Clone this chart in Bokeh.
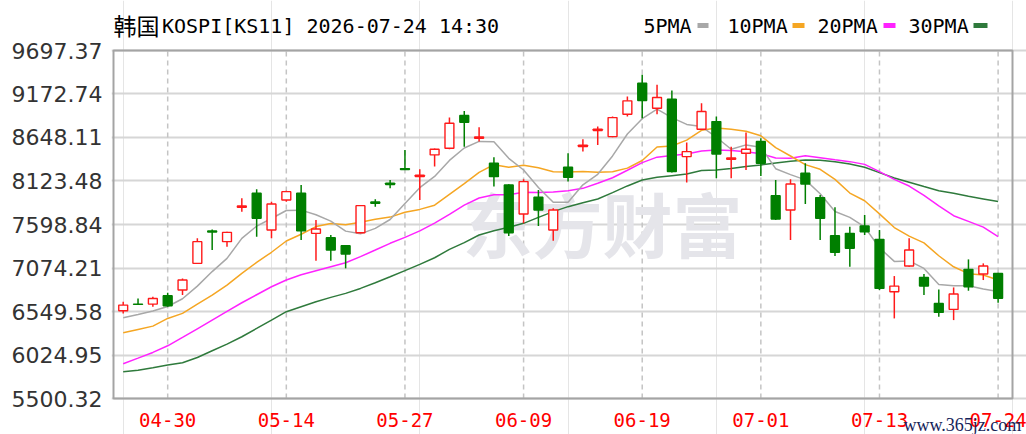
from bokeh.plotting import figure
from bokeh.models import Range1d, FixedTicker, PrintfTickFormatter, ColumnDataSource
from bokeh.embed import file_html
from bokeh.resources import INLINE
from bokeh.core.properties import value

# ---------------- data ----------------
dates = ["04-27", "04-28", "04-29", "04-30", "05-04", "05-06", "05-07", "05-08", "05-11", "05-12",
         "05-13", "05-14", "05-15", "05-18", "05-19", "05-20", "05-21", "05-22", "05-26", "05-27",
         "05-28", "05-29", "06-01", "06-02", "06-04", "06-05", "06-08", "06-09", "06-10", "06-11",
         "06-12", "06-15", "06-16", "06-17", "06-18", "06-19", "06-22", "06-23", "06-24", "06-25",
         "06-26", "06-29", "06-30", "07-01", "07-02", "07-03", "07-06", "07-07", "07-08", "07-09",
         "07-10", "07-13", "07-14", "07-15", "07-16", "07-17", "07-20", "07-21", "07-22", "07-24"]

open_ = [6559, 6639, 6639, 6740, 6808, 7130, 7520, 7392, 7806, 7975,
         7532, 7894, 7975, 7492, 7440, 7343, 7500, 7870, 8096, 8273,
         8176, 8438, 8518, 8913, 8639, 8337, 8076, 7726, 7927, 7532,
         8289, 8538, 8732, 8659, 8929, 9303, 9001, 9110, 8418, 8748,
         8840, 8386, 8458, 8599, 7947, 7774, 8217, 7923, 7464, 7492,
         7581, 7420, 6788, 7098, 6961, 6647, 6575, 7058, 7001, 7009]
high = [6667, 6707, 6727, 6776, 6949, 7432, 7540, 7512, 7915, 8023,
        7874, 8007, 8076, 7653, 7472, 7347, 7834, 7903, 8136, 8498,
        8265, 8514, 8888, 8969, 8772, 8410, 8084, 8144, 8015, 7794,
        8458, 8627, 8780, 8901, 9142, 9404, 9283, 9214, 8587, 9062,
        8901, 8538, 8707, 8639, 8136, 8144, 8337, 7955, 7806, 7573,
        7713, 7532, 6977, 7432, 7001, 6816, 6840, 7178, 7130, 7017]
low = [6526, 6631, 6607, 6607, 6748, 7122, 7291, 7331, 7754, 7452,
       7432, 7874, 7412, 7162, 7162, 7070, 7492, 7814, 8035, 8257,
       7895, 8297, 8506, 8538, 8599, 8056, 7460, 7613, 7581, 7404,
       8116, 8478, 8559, 8651, 8901, 8880, 8929, 8225, 8104, 8740,
       8156, 8156, 8257, 8185, 7653, 7412, 7846, 7412, 7219, 7090,
       7472, 6808, 6466, 7090, 6748, 6486, 6446, 6800, 6929, 6655]
close = [6627, 6635, 6707, 6619, 6929, 7392, 7508, 7504, 7822, 7673,
         7846, 7995, 7524, 7544, 7291, 7243, 7826, 7854, 8080, 8261,
         8192, 8506, 8820, 8832, 8655, 8176, 7500, 8116, 7774, 7774,
         8168, 8554, 8748, 8888, 9090, 9094, 9130, 8237, 8478, 8961,
         8450, 8402, 8506, 8337, 7665, 8088, 8088, 7673, 7263, 7311,
         7512, 6828, 6856, 7291, 6856, 6539, 6760, 6848, 7098, 6708]

ma5 = [6474, 6514, 6555, 6610, 6703, 6856, 7031, 7190, 7431, 7580,
       7671, 7768, 7772, 7716, 7640, 7519, 7486, 7552, 7659, 7853,
       8043, 8179, 8372, 8522, 8601, 8598, 8397, 8256, 8044, 7868,
       7866, 8077, 8204, 8426, 8690, 8875, 8990, 8888, 8806, 8780,
       8651, 8506, 8559, 8531, 8272, 8200, 8137, 7970, 7755, 7685,
       7569, 7317, 7154, 7160, 7069, 6874, 6860, 6859, 6820, 6791]
ma10 = [6293, 6333, 6373, 6466, 6527, 6639, 6748, 6868, 7009, 7142,
        7264, 7400, 7481, 7574, 7610, 7595, 7627, 7662, 7688, 7746,
        7781, 7832, 7962, 8091, 8227, 8320, 8288, 8314, 8283, 8235,
        8232, 8237, 8230, 8235, 8279, 8371, 8534, 8546, 8616, 8735,
        8763, 8748, 8724, 8669, 8526, 8425, 8321, 8265, 8143, 7978,
        7885, 7727, 7562, 7458, 7377, 7222, 7089, 7006, 6990, 6930]
ma20 = [5919, 5987, 6056, 6136, 6237, 6341, 6446, 6551, 6655, 6752,
        6848, 6929, 6993, 7042, 7090, 7138, 7211, 7291, 7372, 7444,
        7522, 7616, 7721, 7832, 7918, 7958, 7957, 7988, 7985, 7990,
        8007, 8035, 8096, 8163, 8253, 8345, 8411, 8430, 8450, 8485,
        8498, 8492, 8477, 8452, 8402, 8398, 8427, 8405, 8380, 8357,
        8324, 8237, 8143, 8063, 7951, 7824, 7705, 7636, 7567, 7454]
ma30 = [5822, 5842, 5871, 5903, 5931, 5995, 6076, 6156, 6245, 6345,
        6446, 6547, 6607, 6667, 6720, 6768, 6828, 6897, 6969, 7042,
        7118, 7198, 7299, 7380, 7472, 7524, 7565, 7613, 7685, 7754,
        7814, 7862, 7907, 7983, 8064, 8136, 8168, 8188, 8208, 8249,
        8257, 8273, 8297, 8317, 8341, 8361, 8377, 8373, 8357, 8329,
        8289, 8225, 8160, 8108, 8056, 8007, 7975, 7939, 7907, 7875]

y_ticks = [5500.32, 6024.95, 6549.58, 7074.21, 7598.84, 8123.48, 8648.11, 9172.74, 9697.37]
tick_idx = [3, 11, 19, 27, 35, 43, 51, 59]
tick_labels = [dates[i] for i in tick_idx]
title_cn = "韩国"
title_rest = "KOSPI[KS11] 2026-07-24 14:30"
legend_labels = ["5PMA", "10PMA", "20PMA", "30PMA"]
watermark = "东方财富"
site = "www.365jz.com"

# ---------------- layout helpers (picture pixels -> data coords) ----------------
W, H = 1026, 434
OFF = 0                      # canvas origin in the picture
BORDER_L = 111               # canvas px left of the frame (y-axis labels)
X0_PAGE, DX = 122.7, 14.829  # picture x of first candle, px per candle
Y_LO, Y_HI = y_ticks[0], y_ticks[-1]
PA_TOP, PA_BOT = 50.0, 398.0   # picture y of the price area
DY = (Y_HI - Y_LO) / (PA_BOT - PA_TOP)


def px_x(page_x):
    return (page_x - X0_PAGE) / DX


def px_y(page_y):
    return Y_HI - (page_y - PA_TOP) * DY


x_start = px_x(OFF + BORDER_L)
x_end = px_x(OFF + W)
y_end = px_y(OFF)
y_start = px_y(OFF + H)

# ---------------- styles ----------------
RED = "#ff1a1a"
GREEN = "#007f00"
ma_colors = ["#a8a8a8", "#f5a623", "#ff22ff", "#2f7a3c"]

idx = list(range(len(dates)))
up = [c >= o for o, c in zip(open_, close)]
src = ColumnDataSource(dict(
    x=idx, o=open_, h=high, l=low, c=close,
    top=[max(o, c) for o, c in zip(open_, close)],
    bot=[min(o, c) for o, c in zip(open_, close)],
    col=[RED if u else GREEN for u in up],
    fill=["white" if u else GREEN for u in up],
))

p = figure(width=W, height=H, x_range=Range1d(x_start, x_end), y_range=Range1d(y_start, y_end),
           output_backend="svg", toolbar_location=None, x_axis_location=None,
           min_border_left=BORDER_L, min_border_right=0, min_border_top=0, min_border_bottom=0)
p.outline_line_color = None
p.background_fill_color = "white"

p.yaxis.ticker = FixedTicker(ticks=y_ticks)
p.yaxis.formatter = PrintfTickFormatter(format="%.2f")
p.yaxis.major_label_text_font = "DejaVu Sans"
p.yaxis.major_label_text_font_size = "22px"
p.yaxis.major_label_text_color = "#333333"
p.yaxis.axis_line_color = None
p.yaxis.major_tick_line_color = None
p.yaxis.minor_tick_line_color = None
p.yaxis.major_label_standoff = 3

p.ygrid.grid_line_color = "#d6d6d6"
p.ygrid.grid_line_width = 2

# vertical dashed date grid, limited to the price area
p.segment(x0=tick_idx, x1=tick_idx, y0=[Y_LO] * len(tick_idx), y1=[Y_HI] * len(tick_idx),
          line_color="#c4c4c4", line_width=1.5, line_dash="5 4")

# watermark
p.text(x=[px_x(602)], y=[px_y(222)], text=[watermark], text_font=value("Noto Sans CJK SC"),
       text_font_style="bold", text_font_size=value("70px"), text_color="#e5e5ea",
       text_align="center", text_baseline="middle")

# price-area border
p.quad(left=[px_x(113)], right=[px_x(1012)], bottom=[Y_LO], top=[Y_HI], fill_color=None,
       line_color="#a4a4a4", line_width=2)

# moving averages
for ma, col in zip([ma30, ma20, ma10, ma5], ma_colors[::-1]):
    p.line(idx, ma, line_color=col, line_width=1.5)

# candles
p.segment(x0="x", x1="x", y0="l", y1="h", line_color="col", line_width=1.5, source=src)
p.vbar(x="x", width=0.6, top="top", bottom="bot", fill_color="fill", line_color="col",
       line_width=1.4, source=src)

# date labels
p.text(x=tick_idx, y=[px_y(419)] * len(tick_idx), text=tick_labels, text_align="center",
       text_baseline="middle", text_font=value("DejaVu Sans Mono"), text_font_size=value("19px"),
       text_color="#ff0000")

# site watermark
p.text(x=[px_x(903)], y=[px_y(424)], text=[site], text_align="left", text_baseline="alphabetic",
       text_font=value("Liberation Serif"), text_font_size=value("18px"), text_color="#15245a")

# title
p.text(x=[px_x(113)], y=[px_y(24.5)], text=[title_cn], text_font=value("Noto Sans CJK SC"),
       text_font_size=value("23px"), text_baseline="middle", text_color="#000000")
p.text(x=[px_x(161.5)], y=[px_y(25)], text=[title_rest], text_font=value("DejaVu Sans Mono"),
       text_font_size=value("20px"), text_baseline="middle", text_color="#000000")

# legend
p.text(x=[px_x(v) for v in (643, 727, 817, 908)], y=[px_y(25)] * 4, text=legend_labels,
       text_font=value("DejaVu Sans Mono"), text_font_size=value("20px"),
       text_baseline="middle", text_color="#000000")
p.quad(left=[px_x(v) for v in (697, 792, 883, 973)], right=[px_x(v) for v in (708, 804, 895, 987)],
       top=[px_y(22.5)] * 4, bottom=[px_y(27.5)] * 4, color=ma_colors, line_color=None)

open("out.html", "w").write(file_html(p, INLINE))
